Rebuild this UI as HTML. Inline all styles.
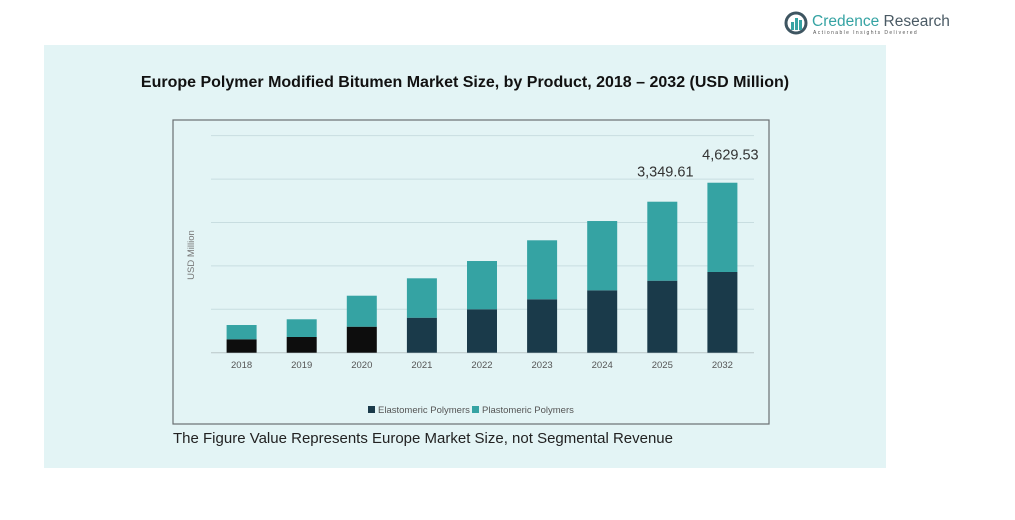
<!DOCTYPE html>
<html><head><meta charset="utf-8"><style>
body{margin:0;width:1015px;height:520px;background:#fff;position:relative;overflow:hidden;font-family:"Liberation Sans",sans-serif}
#panel{position:absolute;left:44px;top:45px;width:842px;height:423px;background:#e3f4f5}
#title{position:absolute;left:44px;width:842px;top:74px;text-align:center;font-size:16px;font-weight:bold;color:#111}
#note{position:absolute;left:173px;top:430px;font-size:15px;color:#222}
#logo{position:absolute;left:784px;top:10px}
</style></head><body>
<div id="panel"></div>
<div id="logo">
<svg width="170" height="30"><circle cx="12" cy="13" r="10" fill="none" stroke="#3e5561" stroke-width="3"/><rect x="7" y="12" width="3" height="8" fill="#35a3a3"/><rect x="11" y="8" width="3" height="12" fill="#35a3a3"/><rect x="15" y="10" width="3" height="10" fill="#35a3a3"/>
<text x="28" y="16" font-size="15.5" fill="#35a3a3" font-family="Liberation Sans">Credence <tspan fill="#4a5a64">Research</tspan></text>
<text x="29" y="24" font-size="5" fill="#555" letter-spacing="1.4">Actionable Insights Delivered</text></svg></div>
<div id="title">Europe Polymer Modified Bitumen Market Size, by Product, 2018 – 2032 (USD Million)</div>
<svg id="chart" style="position:absolute;left:0;top:0" width="1015" height="520">
<rect x="173" y="120" width="596" height="304" fill="none" stroke="#6a6f72" stroke-width="1.2"/>
<g id="grid"></g><g id="bars"></g><g id="labels"></g>
<text transform="translate(194,255) rotate(-90)" text-anchor="middle" font-size="9.5" fill="#777">USD Million</text>
<g>
<rect x="368" y="406" width="7" height="7" fill="#1a3a4a"/><text x="378" y="413" font-size="9.5" fill="#555">Elastomeric Polymers</text>
<rect x="472" y="406" width="7" height="7" fill="#35a3a3"/><text x="482" y="413" font-size="9.5" fill="#555">Plastomeric Polymers</text></g>
</svg>
<div id="note">The Figure Value Represents Europe Market Size, not Segmental Revenue</div>
<script>
const categories=["2018","2019","2020","2021","2022","2023","2024","2025","2032"];
const elastomeric=[365,428,708,953,1182,1454,1699,1961,2198];
const plastomeric=[389,482,844,1073,1315,1607,1887,2151,2431];
const totalLabels=["","","","","","","","3,349.61","4,629.53"];
const gridStep=1182;
const NS="http://www.w3.org/2000/svg";
const base=352.7, pxPer=170/4629.53, x0=241.6, dx=60.1, bw=30;
const y=v=>base-v*pxPer, xc=i=>x0+i*dx;
function mk(t,a,p){const e=document.createElementNS(NS,t);for(const k in a)e.setAttribute(k,a[k]);p.appendChild(e);return e;}
const G=document.getElementById('grid'),B=document.getElementById('bars'),L=document.getElementById('labels');
for(let k=0;k<=5;k++){const l=mk('line',{x1:211,x2:754,y1:y(k*gridStep),y2:y(k*gridStep),stroke:k?'#c8dde0':'#b9c6c8','stroke-width':1},G);

}
categories.forEach((c,i)=>{
const dark=i<3?'#0d0d0d':'#1a3a4a';
const e=mk('rect',{x:xc(i)-bw/2,y:y(elastomeric[i]),width:bw,height:elastomeric[i]*pxPer,fill:dark},B);


const p=mk('rect',{x:xc(i)-bw/2,y:y(elastomeric[i]+plastomeric[i]),width:bw,height:plastomeric[i]*pxPer,fill:'#35a3a3'},B);


const t=mk('text',{x:xc(i),y:368,'text-anchor':'middle','font-size':9.5,fill:'#555'},L);t.textContent=c;


if(totalLabels[i]){const v=mk('text',{x:xc(i)+(i==8?8:3),y:y(elastomeric[i]+plastomeric[i])-(i==8?23:25),'text-anchor':'middle','font-size':14.5,fill:'#333'},L);v.textContent=totalLabels[i];

}
});
</script>
</body></html>
